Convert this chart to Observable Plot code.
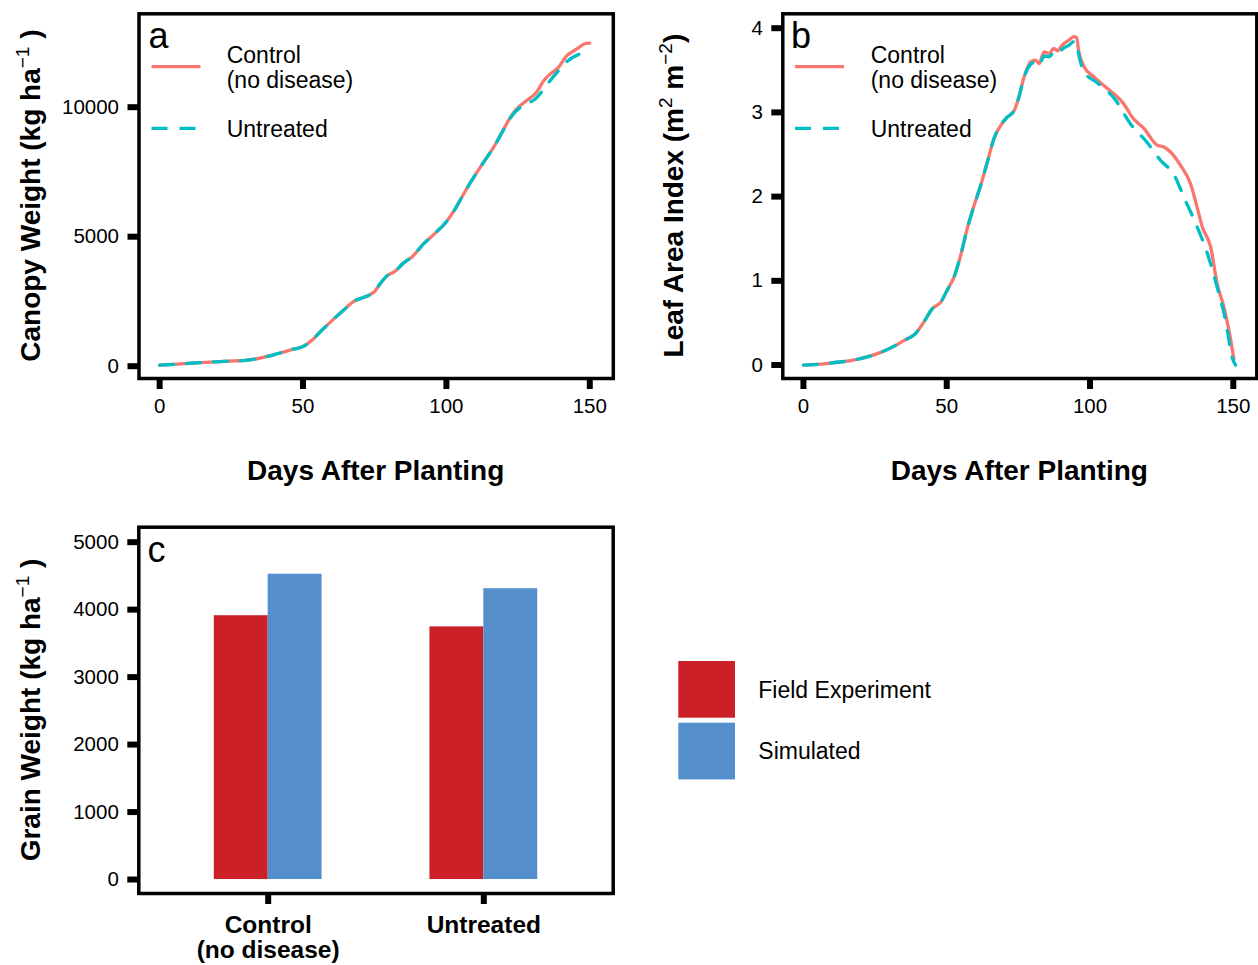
<!DOCTYPE html>
<html>
<head>
<meta charset="utf-8">
<script src="https://cdn.jsdelivr.net/npm/d3@7"></script>
<script src="https://cdn.jsdelivr.net/npm/@observablehq/plot@0.6"></script>
<style>
  html, body { margin: 0; padding: 0; background: #fff; }
  #fig { position: relative; width: 1258px; height: 965px; background: #fff; overflow: hidden;
         font-family: "Liberation Sans", Arial, Helvetica, sans-serif; }
  .panel { position: absolute; }
  .panel svg { max-width: none !important; display: block; }
  #overlay { position: absolute; left: 0; top: 0; pointer-events: none; }
</style>
</head>
<body>
<div id="fig"></div>
<script>
// ---------------- data ----------------
const treatments = ["Control (no disease)", "Untreated"];

// Panel a: canopy weight (kg/ha) vs days after planting
const canopyDays = [0,5,11,16,21,26,30,35,38,41,44,46,48,50,53,56,60,64,68,71,73,75,77,79,82,85,88,92,96,100,103,106,110,113,117,120,122,124,126,129,131,134,136,139,142,144,146,148,150];
const canopyControl = [40,70,115,150,180,205,225,310,390,480,570,640,690,760,990,1330,1750,2150,2520,2650,2740,2890,3200,3460,3660,3980,4220,4720,5130,5580,6060,6650,7380,7880,8550,9150,9560,9870,10080,10340,10520,11030,11260,11530,11990,12150,12290,12440,12470];
const canopyUntreated = [40,70,115,150,180,205,225,310,390,480,570,640,690,760,990,1330,1750,2150,2520,2650,2740,2890,3200,3460,3660,3980,4220,4720,5130,5580,6060,6650,7380,7880,8550,9150,9530,9820,10000,10180,10320,10700,11000,11400,11760,11920,12030,12090,12140];

// Panel b: leaf area index vs days after planting
const laiControlDays = [0,6,11,16,21,27,32,35,39,42,45,48,50,52.5,55,57,59.5,62,64,66.5,69.5,71,73.5,75,77,79.3,81,82.2,84,85.7,87.4,88.6,90.3,92.7,94.4,95.3,96.1,98,101.4,105.5,108.4,111.8,114.8,118.8,123.5,125.8,128.1,131.6,135.1,137.4,139.2,142.1,144.4,146.7,148.5,150.2];
const laiControl = [0,0.01,0.03,0.05,0.085,0.15,0.23,0.29,0.37,0.51,0.67,0.75,0.88,1.04,1.32,1.60,1.89,2.15,2.39,2.69,2.88,2.94,3.02,3.16,3.42,3.60,3.62,3.58,3.72,3.70,3.76,3.73,3.80,3.86,3.90,3.89,3.72,3.54,3.42,3.30,3.22,3.10,2.94,2.81,2.61,2.59,2.53,2.37,2.15,1.87,1.64,1.40,0.96,0.69,0.41,0.07];
const laiUntreatedDays = [0,6,11,16,21,27,32,35,39,42,45,48,50,52.5,55,57,59.5,62,64,66.5,69.5,71,73.5,75,77,79.3,81,82.2,84,85.7,87.4,88.6,90.3,92.7,94.4,95.3,96.1,98,102.6,108.4,114.2,120,124.6,129.3,132.8,136.9,141,144.4,147.3,149.6,150.8];
const laiUntreated = [0,0.01,0.03,0.05,0.085,0.15,0.23,0.29,0.37,0.51,0.67,0.75,0.88,1.04,1.32,1.60,1.89,2.15,2.39,2.69,2.88,2.94,3.02,3.16,3.42,3.57,3.60,3.56,3.67,3.66,3.71,3.69,3.75,3.80,3.84,3.83,3.68,3.48,3.35,3.17,2.86,2.64,2.43,2.26,1.99,1.68,1.32,0.92,0.53,0.09,0.0];

// Panel c: grain weight (kg/ha)
const grainCategories = ["Control\n(no disease)", "Untreated"];
const grainSources = ["Field Experiment", "Simulated"];
const grainField = [3910, 3745];
const grainSimulated = [4525, 4310];

// tick values
const dayTicks = [0, 50, 100, 150];
const canopyTicks = [0, 5000, 10000];
const laiTicks = [0, 1, 2, 3, 4];
const grainTicks = [0, 1000, 2000, 3000, 4000, 5000];

// ---------------- styles ----------------
const FONT = '"Liberation Sans", Arial, Helvetica, sans-serif';
const lineColors = ["#F8766D", "#00BFC4"];
const barColors = ["#CB2027", "#548FCC"];
const DASH = "14,13";
const LW = 3.3;

// ---------------- tables ----------------
const canopyRows = treatments.flatMap((t, k) =>
  canopyDays.map((d, i) => ({treatment: t, day: d, value: (k ? canopyUntreated : canopyControl)[i]})));
const laiRows = [
  ...laiControlDays.map((d, i) => ({treatment: treatments[0], day: d, value: laiControl[i]})),
  ...laiUntreatedDays.map((d, i) => ({treatment: treatments[1], day: d, value: laiUntreated[i]}))
];
const grainRows = grainCategories.flatMap((c, i) => [
  {category: c, index: i + 1, source: grainSources[0], value: grainField[i]},
  {category: c, index: i + 1, source: grainSources[1], value: grainSimulated[i]}
]);
const dodge = 0.25; // each bar is half of the 0.5 dodge width

const fig = document.getElementById("fig");
function place(node, left, top, w, h) {
  const div = document.createElement("div");
  div.className = "panel";
  div.style.left = left + "px"; div.style.top = top + "px";
  div.style.width = w + "px"; div.style.height = h + "px";
  div.appendChild(node);
  fig.appendChild(div);
}

const baseStyle = {fontFamily: FONT, color: "black", background: "white", overflow: "visible"};
const axisCommon = {tickSize: 11, strokeWidth: 6, fontSize: 20.5, label: null, tickFormat: d3.format("d")};

function linePanel(rows, yDomain, yTicks, w, mLeft, mRight) {
  return Plot.plot({
    width: w, height: 420,
    marginLeft: mLeft, marginRight: mRight, marginTop: 13.3, marginBottom: 42,
    style: baseStyle,
    x: {domain: [-7.2, 158.2]},
    y: {domain: yDomain},
    marks: [
      Plot.line(rows.filter(d => d.treatment === treatments[0]),
        {x: "day", y: "value", stroke: lineColors[0], strokeWidth: LW, curve: "monotone-x"}),
      Plot.line(rows.filter(d => d.treatment === treatments[1]),
        {x: "day", y: "value", stroke: lineColors[1], strokeWidth: LW, strokeDasharray: DASH, curve: "monotone-x"}),
      Plot.frame({stroke: "black", strokeWidth: 3.5}),
      Plot.axisX({...axisCommon, ticks: dayTicks, tickPadding: 9}),
      Plot.axisY({...axisCommon, ticks: yTicks, tickPadding: 9})
    ]
  });
}

place(linePanel(canopyRows, [-475, 13606], canopyTicks, 630, 138.5, 17.2), 0, 0, 630, 420);
place(linePanel(laiRows, [-0.16, 4.171], laiTicks, 618, 142.3, 1.7), 640, 0, 618, 420);

const plotC = Plot.plot({
  width: 640, height: 465,
  marginLeft: 138.3, marginRight: 27.3, marginTop: 26.7, marginBottom: 72,
  style: baseStyle,
  x: {domain: [0.4, 2.6]},
  y: {domain: [-207, 5222]},
  color: {domain: grainSources, range: barColors},
  marks: [
    Plot.rect(grainRows, {
      x1: d => d.index + (d.source === grainSources[0] ? -dodge : 0),
      x2: d => d.index + (d.source === grainSources[0] ? 0 : dodge),
      y1: 0, y2: "value", fill: "source"
    }),
    Plot.frame({stroke: "black", strokeWidth: 3.5}),
    Plot.axisX({tickSize: 11, strokeWidth: 6, label: null, ticks: [1, 2],
      tickFormat: i => grainCategories[i - 1], tickPadding: 11,
      fontSize: 24.5, fontWeight: "bold", lineHeight: 1.02}),
    Plot.axisY({...axisCommon, ticks: grainTicks, tickPadding: 9})
  ]
});
place(plotC, 0, 500, 640, 465);

// ---------------- titles, panel tags, legends ----------------
const sup = (s) => `<tspan font-size="19" font-weight="normal" dy="-11">${s}</tspan><tspan dy="11">`;
const overlay = `
<svg id="overlay" width="1258" height="965" xmlns="http://www.w3.org/2000/svg" font-family='${FONT}' fill="black">
  <g font-size="28" font-weight="bold" text-anchor="middle">
    <text x="375.7" y="480">Days After Planting</text>
    <text x="1019.3" y="480">Days After Planting</text>
    <text transform="translate(40,195.6) rotate(-90)">Canopy Weight (kg ha${sup("\u22121")} )</tspan></text>
    <text transform="translate(683,195.6) rotate(-90)">Leaf Area Index (m${sup("2")} m</tspan>${sup("\u22122")})</tspan></text>
    <text transform="translate(40,710) rotate(-90)">Grain Weight (kg ha${sup("\u22121")} )</tspan></text>
  </g>
  <g font-size="36">
    <text x="148.5" y="48">a</text>
    <text x="791" y="48">b</text>
    <text x="147.5" y="562">c</text>
  </g>
  <g font-size="23">
    <line x1="151.5" x2="200.5" y1="66.7" y2="66.7" stroke="${lineColors[0]}" stroke-width="${LW}"/>
    <line x1="151.5" x2="200.5" y1="128.3" y2="128.3" stroke="${lineColors[1]}" stroke-width="${LW}" stroke-dasharray="16,12"/>
    <text x="226.7" y="63.3">Control</text>
    <text x="226.7" y="88.3">(no disease)</text>
    <text x="226.7" y="136.7">Untreated</text>
    <line x1="795" x2="844" y1="66.7" y2="66.7" stroke="${lineColors[0]}" stroke-width="${LW}"/>
    <line x1="795" x2="844" y1="128.3" y2="128.3" stroke="${lineColors[1]}" stroke-width="${LW}" stroke-dasharray="16,12"/>
    <text x="870.7" y="63.3">Control</text>
    <text x="870.7" y="88.3">(no disease)</text>
    <text x="870.7" y="136.7">Untreated</text>
    <rect x="678.3" y="661" width="56.7" height="56.7" fill="${barColors[0]}"/>
    <rect x="678.3" y="722.7" width="56.7" height="56.7" fill="${barColors[1]}"/>
    <text x="758.3" y="698.3">${grainSources[0]}</text>
    <text x="758.3" y="759.3">${grainSources[1]}</text>
  </g>
</svg>`;
fig.insertAdjacentHTML("beforeend", overlay);
</script>
</body>
</html>
